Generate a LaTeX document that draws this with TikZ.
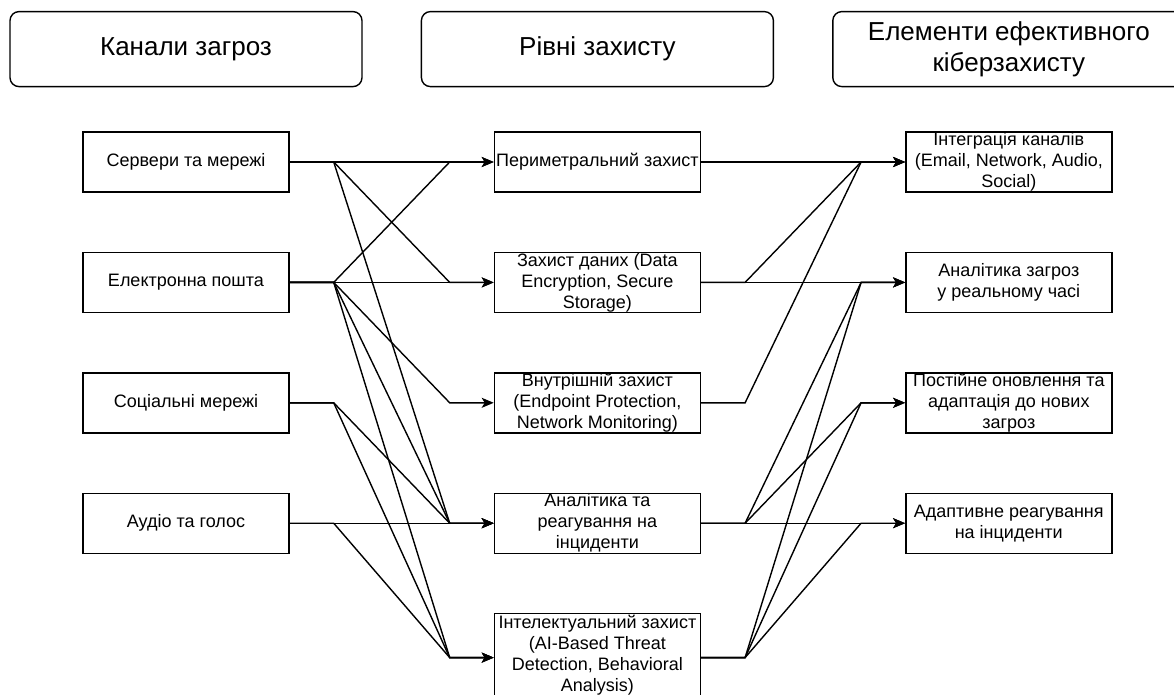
\documentclass[tikz,border=0pt]{standalone}
\usepackage{fontspec}
\setmainfont{Liberation Sans}
\usepackage{tikz}
\usetikzlibrary{positioning, arrows.meta}
\tikzset{heading/.style={rectangle, rounded corners=9pt, minimum width=352pt, minimum height=75pt, align=center, draw=black, font=\fontsize{26}{31}\selectfont},
         block/.style={rectangle, minimum width=206pt, minimum height=60pt, inner xsep=0pt, inner ysep=0pt, align=center, draw=black, font=\fontsize{18}{21}\selectfont}}

\begin{document}
\begin{tikzpicture}[x=1pt, y=1pt, node distance=59pt and 204pt, line width=1.4pt, >={Stealth[length=12pt, width=10pt, inset=3pt]}]
        \useasboundingbox (0,0) rectangle (1174,-695);
        % threat channels
        \node (servers)[block] at (186,-162) {Сервери та мережі};
        \node (email)[block, below=of servers]{Електронна пошта};
        \node (social)[block, below=of email]{Соціальні мережі};
        \node (audio)[block, below=of social]{Аудіо та голос};
        % protection levels
        \node (perim)[block, right=of servers]{Периметральний захист};
        \node (data)[block, below=of perim]{Захист даних (Data\\Encryption, Secure\\Storage)};
        \node (inner)[block, below=of data]{Внутрішній захист\\(Endpoint Protection,\\Network Monitoring)};
        \node (react)[block, below=of inner]{Аналітика та\\реагування на\\інциденти};
        \node (intel)[block, minimum height=88pt, text depth=8pt, below=of react]{Інтелектуальний захист\\(AI-Based Threat\\Detection, Behavioral\\Analysis)};
        % elements of cyber defence
        \node (integr)[block, right=of perim]{Інтеграція каналів\\(Email, Network, Audio,\\Social)};
        \node (realtime)[block, below=of integr]{Аналітика загроз\\у реальному часі};
        \node (update)[block, below=of realtime]{Постійне оновлення та\\адаптація до нових\\загроз};
        \node (adapt)[block, below=of update]{Адаптивне реагування\\на інциденти};
        % column headings
        \node (hthreat)[heading, above=44pt of servers]{Канали загроз};
        \node (hlevel)[heading, above=44pt of perim]{Рівні захисту};
        \node (helem)[heading, above=44pt of integr]{Елементи ефективного\\кіберзахисту};
        % channels -> levels
        \draw [->] (servers) -- (perim);
        \draw [->] (servers.east) -- ++(44pt,0) -- ([xshift=-44pt]data.west) -- (data.west);
        \draw [->] (servers.east) -- ++(44pt,0) -- ([xshift=-44pt]react.west) -- (react.west);
        \draw [->] (email.east) -- ++(44pt,0) -- ([xshift=-44pt]perim.west) -- (perim.west);
        \draw [->] (email) -- (data);
        \draw [->] (email.east) -- ++(44pt,0) -- ([xshift=-44pt]inner.west) -- (inner.west);
        \draw [->] (email.east) -- ++(44pt,0) -- ([xshift=-44pt]react.west) -- (react.west);
        \draw [->] (email.east) -- ++(44pt,0) -- ([xshift=-44pt]intel.west) -- (intel.west);
        \draw [->] (social.east) -- ++(44pt,0) -- ([xshift=-44pt]react.west) -- (react.west);
        \draw [->] (social.east) -- ++(44pt,0) -- ([xshift=-44pt]intel.west) -- (intel.west);
        \draw [->] (audio) -- (react);
        \draw [->] (audio.east) -- ++(44pt,0) -- ([xshift=-44pt]intel.west) -- (intel.west);
        % levels -> elements
        \draw [->] (perim) -- (integr);
        \draw [->] (data.east) -- ++(44pt,0) -- ([xshift=-44pt]integr.west) -- (integr.west);
        \draw [->] (data) -- (realtime);
        \draw [->] (inner.east) -- ++(44pt,0) -- ([xshift=-44pt]integr.west) -- (integr.west);
        \draw [->] (react.east) -- ++(44pt,0) -- ([xshift=-44pt]realtime.west) -- (realtime.west);
        \draw [->] (react.east) -- ++(44pt,0) -- ([xshift=-44pt]update.west) -- (update.west);
        \draw [->] (react) -- (adapt);
        \draw [->] (intel.east) -- ++(44pt,0) -- ([xshift=-44pt]realtime.west) -- (realtime.west);
        \draw [->] (intel.east) -- ++(44pt,0) -- ([xshift=-44pt]update.west) -- (update.west);
        \draw [->] (intel.east) -- ++(44pt,0) -- ([xshift=-44pt]adapt.west) -- (adapt.west);
    \end{tikzpicture}
\end{document}
